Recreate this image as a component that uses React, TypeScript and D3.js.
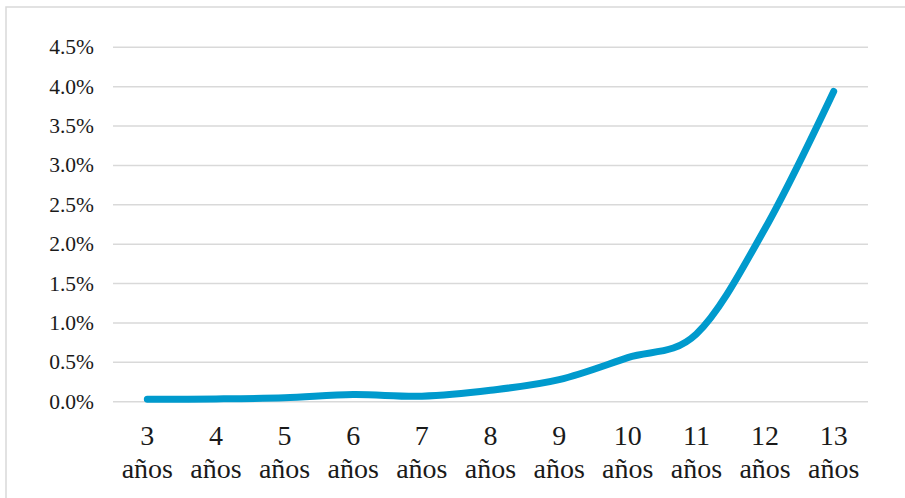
import React from "react";
import * as d3 from "d3";

const categories: string[] = ["3", "4", "5", "6", "7", "8", "9", "10", "11", "12", "13"];
const unitLabel = "años";
const values: number[] = [0.0003, 0.00035, 0.0005, 0.0009, 0.0007, 0.00145, 0.0028, 0.0056, 0.0086, 0.022, 0.0394];
const yTicks: number[] = [0, 0.005, 0.01, 0.015, 0.02, 0.025, 0.03, 0.035, 0.04, 0.045];

const W = 905;
const H = 498;
const plotLeft = 113;
const plotRight = 868;
const yZero = 401.7;
const yTop = 47.3;

export default function App() {
  const x = d3.scaleBand<string>().domain(categories).range([plotLeft, plotRight]).padding(0);
  const y = d3.scaleLinear().domain([0, 0.045]).range([yZero, yTop]);
  const fmt = d3.format(".1%");
  const line = d3
    .line<number>()
    .x((_, i) => (x(categories[i]) as number) + x.bandwidth() / 2)
    .y((d) => y(d))
    .curve(d3.curveCatmullRom.alpha(0));

  return (
    <svg
      width={W}
      height={H}
      style={{ position: "absolute", left: 0, top: 0, background: "#fff" }}
      fontFamily="'Liberation Serif', 'Times New Roman', serif"
    >
      <rect x={6} y={7} width={W + 10} height={H + 10} fill="#fff" stroke="#d9d9d9" strokeWidth={1.5} />
      {yTicks.map((t) => (
        <g key={t}>
          <line x1={plotLeft} x2={plotRight} y1={y(t)} y2={y(t)} stroke="#d9d9d9" strokeWidth={1.4} />
          <text x={94} y={y(t) + 7} textAnchor="end" fontSize={21.5} fill="#1a1a1a">
            {fmt(t)}
          </text>
        </g>
      ))}
      <path d={line(values) || ""} fill="none" stroke="#009ACD" strokeWidth={7} strokeLinecap="round" strokeLinejoin="round" />
      {categories.map((c) => {
        const cx = (x(c) as number) + x.bandwidth() / 2;
        return (
          <g key={c}>
            <text x={cx} y={445} textAnchor="middle" fontSize={28} fill="#1a1a1a">
              {c}
            </text>
            <text x={cx} y={478} textAnchor="middle" fontSize={28} fill="#1a1a1a">
              {unitLabel}
            </text>
          </g>
        );
      })}
    </svg>
  );
}
